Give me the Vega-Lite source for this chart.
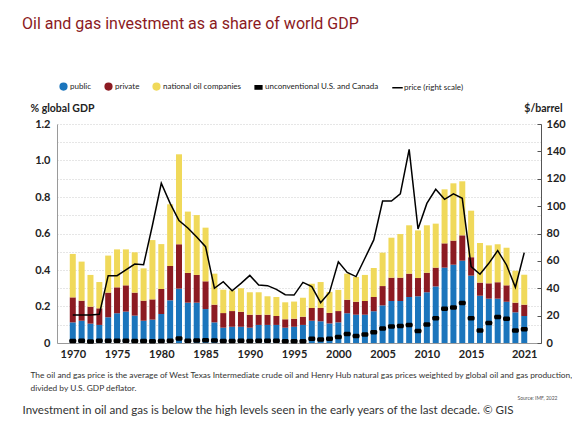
{
  "$schema": "https://vega.github.io/schema/vega-lite/v6.json",
  "width": 484,
  "height": 219,
  "autosize": {"type": "none"},
  "padding": {"left": 57, "top": 124, "right": 31, "bottom": 83},
  "background": "white",
  "title": {
    "text": "Oil and gas investment as a share of world GDP",
    "anchor": "start",
    "frame": "group",
    "dx": -35,
    "offset": 50,
    "font": "Roboto",
    "fontSize": 16,
    "fontWeight": "normal",
    "color": "#8b1a22"
  },
  "config": {
    "view": {"stroke": null},
    "font": "Lato"
  },
  "datasets": {
    "inv": [
      {"year": 1970, "public": 0.113, "private": 0.137, "noc": 0.238, "unconv": 0.011, "price": 20.5},
      {"year": 1971, "public": 0.122, "private": 0.110, "noc": 0.214, "unconv": 0.012, "price": 20.5},
      {"year": 1972, "public": 0.106, "private": 0.093, "noc": 0.174, "unconv": 0.008, "price": 20.5},
      {"year": 1973, "public": 0.099, "private": 0.091, "noc": 0.144, "unconv": 0.012, "price": 21},
      {"year": 1974, "public": 0.141, "private": 0.135, "noc": 0.203, "unconv": 0.012, "price": 49.2},
      {"year": 1975, "public": 0.163, "private": 0.142, "noc": 0.208, "unconv": 0.012, "price": 49.2},
      {"year": 1976, "public": 0.172, "private": 0.144, "noc": 0.197, "unconv": 0.012, "price": 53.5},
      {"year": 1977, "public": 0.150, "private": 0.126, "noc": 0.221, "unconv": 0.011, "price": 57.7},
      {"year": 1978, "public": 0.122, "private": 0.110, "noc": 0.177, "unconv": 0.011, "price": 57.2},
      {"year": 1979, "public": 0.128, "private": 0.111, "noc": 0.325, "unconv": 0.010, "price": 86},
      {"year": 1980, "public": 0.159, "private": 0.137, "noc": 0.246, "unconv": 0.011, "price": 116.7},
      {"year": 1981, "public": 0.234, "private": 0.188, "noc": 0.338, "unconv": 0.012, "price": 102},
      {"year": 1982, "public": 0.298, "private": 0.243, "noc": 0.493, "unconv": 0.025, "price": 89.5},
      {"year": 1983, "public": 0.221, "private": 0.163, "noc": 0.336, "unconv": 0.012, "price": 84},
      {"year": 1984, "public": 0.221, "private": 0.152, "noc": 0.328, "unconv": 0.014, "price": 77.5},
      {"year": 1985, "public": 0.186, "private": 0.152, "noc": 0.294, "unconv": 0.015, "price": 70.4},
      {"year": 1986, "public": 0.113, "private": 0.097, "noc": 0.170, "unconv": 0.014, "price": 40},
      {"year": 1987, "public": 0.084, "private": 0.080, "noc": 0.128, "unconv": 0.011, "price": 44.8},
      {"year": 1988, "public": 0.089, "private": 0.086, "noc": 0.113, "unconv": 0.011, "price": 38.2},
      {"year": 1989, "public": 0.089, "private": 0.082, "noc": 0.129, "unconv": 0.012, "price": 43.6},
      {"year": 1990, "public": 0.084, "private": 0.071, "noc": 0.123, "unconv": 0.011, "price": 49.4},
      {"year": 1991, "public": 0.099, "private": 0.056, "noc": 0.123, "unconv": 0.013, "price": 42.4},
      {"year": 1992, "public": 0.099, "private": 0.056, "noc": 0.101, "unconv": 0.013, "price": 41.9},
      {"year": 1993, "public": 0.099, "private": 0.049, "noc": 0.104, "unconv": 0.013, "price": 39.2},
      {"year": 1994, "public": 0.084, "private": 0.046, "noc": 0.093, "unconv": 0.009, "price": 35.3},
      {"year": 1995, "public": 0.089, "private": 0.044, "noc": 0.094, "unconv": 0.009, "price": 35},
      {"year": 1996, "public": 0.099, "private": 0.045, "noc": 0.104, "unconv": 0.009, "price": 44.3},
      {"year": 1997, "public": 0.122, "private": 0.070, "noc": 0.133, "unconv": 0.023, "price": 41.2},
      {"year": 1998, "public": 0.119, "private": 0.073, "noc": 0.142, "unconv": 0.019, "price": 29.5},
      {"year": 1999, "public": 0.107, "private": 0.058, "noc": 0.115, "unconv": 0.023, "price": 37},
      {"year": 2000, "public": 0.113, "private": 0.062, "noc": 0.116, "unconv": 0.033, "price": 59.4},
      {"year": 2001, "public": 0.163, "private": 0.074, "noc": 0.143, "unconv": 0.050, "price": 51.6},
      {"year": 2002, "public": 0.155, "private": 0.071, "noc": 0.136, "unconv": 0.038, "price": 48.5},
      {"year": 2003, "public": 0.155, "private": 0.075, "noc": 0.143, "unconv": 0.047, "price": 61.9},
      {"year": 2004, "public": 0.174, "private": 0.078, "noc": 0.159, "unconv": 0.059, "price": 75.3},
      {"year": 2005, "public": 0.206, "private": 0.106, "noc": 0.183, "unconv": 0.079, "price": 103.7},
      {"year": 2006, "public": 0.230, "private": 0.128, "noc": 0.219, "unconv": 0.091, "price": 103.7},
      {"year": 2007, "public": 0.230, "private": 0.128, "noc": 0.239, "unconv": 0.093, "price": 109},
      {"year": 2008, "public": 0.252, "private": 0.128, "noc": 0.265, "unconv": 0.099, "price": 141.5},
      {"year": 2009, "public": 0.256, "private": 0.100, "noc": 0.261, "unconv": 0.066, "price": 83.3},
      {"year": 2010, "public": 0.278, "private": 0.107, "noc": 0.260, "unconv": 0.102, "price": 102},
      {"year": 2011, "public": 0.310, "private": 0.103, "noc": 0.241, "unconv": 0.135, "price": 112.3},
      {"year": 2012, "public": 0.413, "private": 0.133, "noc": 0.296, "unconv": 0.188, "price": 105},
      {"year": 2013, "public": 0.429, "private": 0.132, "noc": 0.314, "unconv": 0.195, "price": 108.9},
      {"year": 2014, "public": 0.451, "private": 0.139, "noc": 0.296, "unconv": 0.219, "price": 105.7},
      {"year": 2015, "public": 0.369, "private": 0.101, "noc": 0.255, "unconv": 0.135, "price": 55.8},
      {"year": 2016, "public": 0.259, "private": 0.072, "noc": 0.217, "unconv": 0.069, "price": 50.2},
      {"year": 2017, "public": 0.243, "private": 0.084, "noc": 0.208, "unconv": 0.110, "price": 58.2},
      {"year": 2018, "public": 0.243, "private": 0.090, "noc": 0.208, "unconv": 0.142, "price": 67.5},
      {"year": 2019, "public": 0.226, "private": 0.090, "noc": 0.206, "unconv": 0.133, "price": 57},
      {"year": 2020, "public": 0.168, "private": 0.053, "noc": 0.175, "unconv": 0.069, "price": 40.7},
      {"year": 2021, "public": 0.148, "private": 0.062, "noc": 0.164, "unconv": 0.075, "price": 66}
    ]
  },
  "data": {"name": "inv"},
  "layer": [
    {
      "transform": [{"fold": ["public", "private", "noc"], "as": ["category", "share"]}],
      "mark": {"type": "bar", "width": 6},
      "encoding": {
        "x": {
          "field": "year",
          "type": "quantitative",
          "scale": {"domain": [1968.783, 2022.328], "nice": false, "zero": false},
          "axis": {
            "orient": "bottom",
            "values": [1970, 1975, 1980, 1985, 1990, 1995, 2000, 2005, 2010, 2015, 2021],
            "format": "d",
            "grid": false,
            "ticks": false,
            "domainColor": "#9a9a9a",
            "labelFont": "Lato",
            "labelFontSize": 11,
            "labelFontWeight": "bold",
            "labelColor": "#222222",
            "labelPadding": 5,
            "labelFlush": false,
            "labelOverlap": false,
            "title": [
              "The oil and gas price is the average of West Texas Intermediate crude oil and Henry Hub natural gas prices weighted by global oil and gas production,",
              "divided by U.S. GDP deflator."
            ],
            "titleX": -27,
            "titleY": 27,
            "titleAlign": "left",
            "titleAnchor": null,
            "titleBaseline": "top",
            "titleFont": "Lato",
            "titleFontSize": 8.35,
            "titleFontWeight": "normal",
            "titleColor": "#333333",
            "titleLineHeight": 13
          }
        },
        "y": {
          "field": "share",
          "type": "quantitative",
          "stack": "zero",
          "scale": {"domain": [0, 1.2], "nice": false},
          "axis": {
            "values": [0, 0.1, 0.2, 0.3, 0.4, 0.5, 0.6, 0.7, 0.8, 0.9, 1.0, 1.1, 1.2],
            "labelExpr": "round(datum.value * 10) % 2 == 0 ? (datum.value == 0 ? '0' : format(datum.value, '.1f')) : ''",
            "grid": true,
            "gridColor": "#cccccc",
            "gridDash": [1, 2],
            "ticks": false,
            "domainColor": "#9a9a9a",
            "labelFont": "Lato",
            "labelFontSize": 11,
            "labelFontWeight": "bold",
            "labelColor": "#222222",
            "labelPadding": 7,
            "title": "% global GDP",
            "titleAngle": 0,
            "titleX": -27,
            "titleY": -13,
            "titleAlign": "left",
            "titleBaseline": "alphabetic",
            "titleFont": "Lato",
            "titleFontSize": 10.5,
            "titleFontWeight": "bold",
            "titleColor": "#222222"
          }
        },
        "color": {
          "field": "category",
          "type": "nominal",
          "scale": {
            "domain": ["public", "private", "noc", "unconventional U.S. and Canada", "price (right scale)"],
            "range": ["#1b75bc", "#8c1b22", "#f0d95a", "#000000", "#000000"]
          },
          "legend": {
            "orient": "none",
            "legendX": 2,
            "legendY": -42,
            "direction": "horizontal",
            "title": null,
            "labelFont": "Lato",
            "labelFontSize": 8,
            "labelColor": "#222222",
            "labelOffset": 2,
            "columnPadding": 10,
            "symbolSize": 45,
            "labelExpr": "datum.label == 'noc' ? 'national oil companies' : datum.label",
            "encoding": {
              "symbols": {
                "shape": {"value": {"expr": "datum.value == 'price (right scale)' ? 'stroke' : (datum.value == 'unconventional U.S. and Canada' ? 'M-1,-0.5H1V0.5H-1Z' : 'circle')"}},
                "fill": {"value": {"expr": "datum.value == 'price (right scale)' ? 'transparent' : scale('color', datum.value)"}},
                "stroke": {"value": {"expr": "datum.value == 'price (right scale)' ? '#000000' : 'transparent'"}},
                "strokeWidth": {"value": 1.5},
                "size": {"value": {"expr": "datum.value == 'price (right scale)' ? 110 : 45"}},
                "opacity": {"value": 1}
              }
            }
          }
        },
        "order": {"field": "category", "sort": "descending"}
      }
    },
    {
      "mark": {"type": "tick", "orient": "horizontal", "size": 7, "thickness": 4.5, "cornerRadius": 1.5, "opacity": 1},
      "encoding": {
        "x": {
          "field": "year",
          "type": "quantitative",
          "axis": {
            "orient": "bottom",
            "labels": false,
            "ticks": false,
            "domain": false,
            "grid": false,
            "title": "Source: IMF, 2022",
            "titleX": 500,
            "titleY": 54,
            "titleAlign": "right",
            "titleAnchor": null,
            "titleBaseline": "middle",
            "titleFont": "Lato",
            "titleFontSize": 5,
            "titleFontWeight": "normal",
            "titleColor": "#555555"
          }
        },
        "y": {
          "field": "unconv",
          "type": "quantitative",
          "scale": {"domain": [0, 1.2], "nice": false},
          "axis": null
        },
        "color": {"datum": "unconventional U.S. and Canada"}
      }
    },
    {
      "mark": {"type": "line", "strokeWidth": 1.5},
      "encoding": {
        "x": {
          "field": "year",
          "type": "quantitative",
          "axis": {
            "orient": "bottom",
            "labels": false,
            "ticks": false,
            "domain": false,
            "grid": false,
            "title": "Investment in oil and gas is below the high levels seen in the early years of the last decade. © GIS",
            "titleX": -35,
            "titleY": 67,
            "titleAlign": "left",
            "titleAnchor": null,
            "titleBaseline": "middle",
            "titleFont": "Lato",
            "titleFontSize": 11.6,
            "titleFontWeight": "normal",
            "titleColor": "#333333"
          }
        },
        "y": {
          "field": "price",
          "type": "quantitative",
          "scale": {"domain": [0, 160], "nice": false},
          "axis": {
            "orient": "right",
            "values": [0, 20, 40, 60, 80, 100, 120, 140, 160],
            "grid": false,
            "ticks": true,
            "tickSize": -4,
            "tickColor": "#555555",
            "domainColor": "#555555",
            "labelFont": "Lato",
            "labelFontSize": 11,
            "labelFontWeight": "bold",
            "labelColor": "#222222",
            "labelPadding": 9,
            "title": "$/barrel",
            "titleAngle": 0,
            "titleX": 21,
            "titleY": -13,
            "titleAlign": "right",
            "titleBaseline": "alphabetic",
            "titleFont": "Lato",
            "titleFontSize": 10.5,
            "titleFontWeight": "bold",
            "titleColor": "#222222"
          }
        },
        "color": {"datum": "price (right scale)"}
      }
    }
  ],
  "resolve": {"scale": {"y": "independent"}, "axis": {"x": "independent"}}
}
